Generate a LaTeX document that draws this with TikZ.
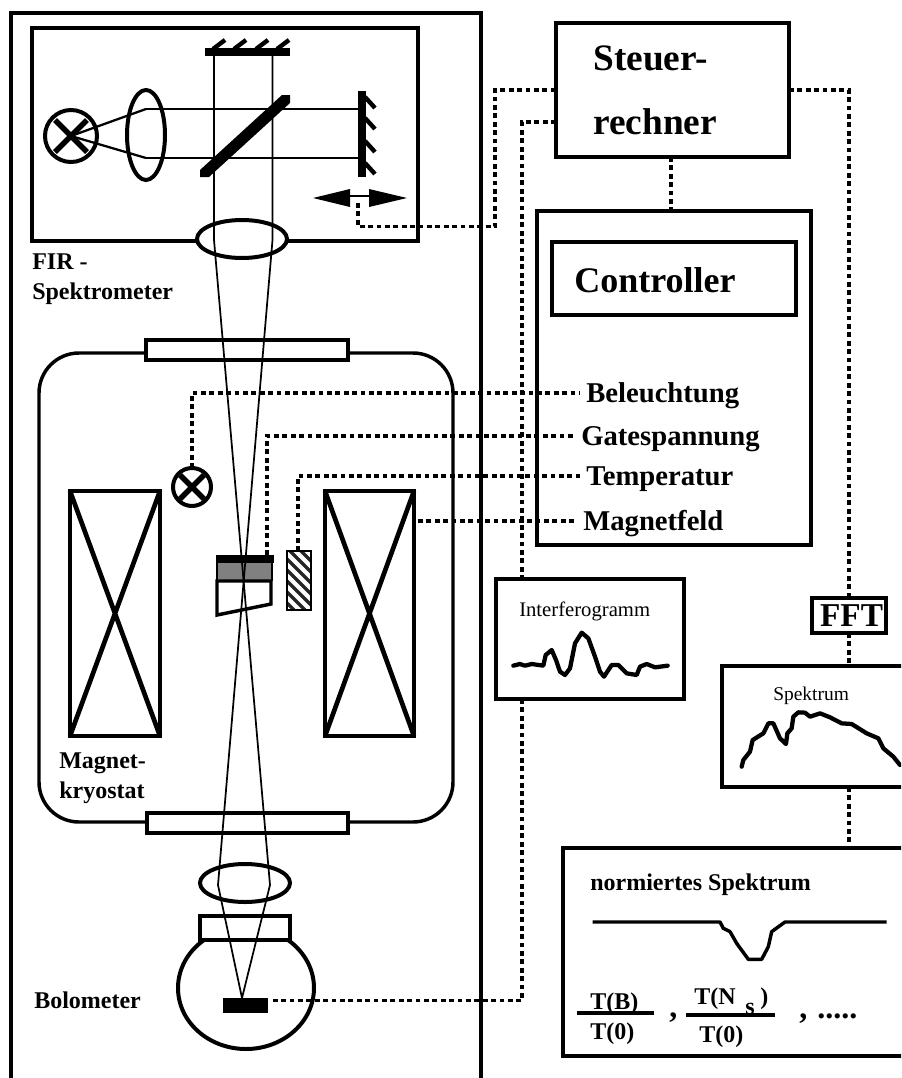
\documentclass[tikz,border=0pt]{standalone}
\usepackage{fontspec}
\setmainfont{Liberation Serif}
\newcommand{\pxbox}[6][]{\node[bx,#1,minimum width={0.75pt*(#5-#3)},minimum height={0.75pt*(#6-#4)}] (#2) at ({(#3+#5)/2},{(#4+#6)/2}) {};}
\tikzset{
  bx/.style={draw=black,fill=white,line width=2.6pt,inner sep=0pt,outer sep=0pt,rectangle},
  heavy/.style={line width=2.6pt,line join=miter},
  cross/.style={line width=3.5pt},
  ray/.style={line width=1.3pt},
  hatchline/.style={line width=3.3pt},
  conn/.style={line width=2.9pt,dash pattern=on 3.6pt off 2.7pt},
  wave/.style={line width=3.2pt,line join=round,line cap=round},
  lab/.style={font=\fontsize{18}{20}\selectfont\bfseries,inner sep=0pt,anchor=west,text height=14.4pt,text depth=2.7pt},
  sig/.style={font=\fontsize{21.5}{24}\selectfont\bfseries,inner xsep=4.5pt,inner ysep=0pt,anchor=west,text height=17.2pt,text depth=3.2pt},
  big/.style={font=\fontsize{28}{30}\selectfont\bfseries,inner sep=0pt,anchor=west,text height=22.4pt,text depth=4.2pt},
  small/.style={font=\fontsize{15.5}{17}\selectfont,inner sep=0pt,anchor=west,text height=12.4pt,text depth=2.3pt},
  punct/.style={font=\fontsize{24}{26}\selectfont\bfseries,inner sep=0pt,anchor=base west},
}
\begin{document}
\begin{tikzpicture}[x=0.75pt,y=-0.75pt]
\useasboundingbox (0,0) rectangle (901,1078);
\clip (0,0) rectangle (901,1078);
% outer frame
\draw[heavy] (11,1090) -- (11,13) -- (481,13) -- (481,1090);
% spectrometer
\pxbox{spec}{32}{28}{418}{241}
\draw[line width=3pt,fill=white] (242,239) ellipse (33.75pt and 14.25pt);
% top mirror
\fill (205,48) rectangle (290,56);
\foreach \a in {213,234,256,277}{\draw[hatchline] (\a,49) -- (\a+12,40);}
% right mirror
\fill (358,91) rectangle (366,177);
\foreach \a/\b in {97/108,118/129,141/152,163/174}{\draw[hatchline] (365,\a) -- (375,\b);}
% scan arrow
\fill (313,198) -- (350,189) -- (350,207) -- cycle;
\fill (407,198) -- (369,189) -- (369,207) -- cycle;
\draw[line width=1.5pt] (349,196) -- (370,196);
\coordinate (scan) at (358,203);
% source lamp
\draw[line width=3pt] (71,136) circle (19.5pt);
\draw[line width=4pt] (55,120) -- (87,152) (55,152) -- (87,120);
\draw[line width=3pt] (146,135) ellipse (14.25pt and 33.75pt);
\draw[line width=1.7pt] (71,136) -- (146,109) (71,136) -- (146,158);
% horizontal rays
\draw[ray] (146,109) -- (358,109) (146,158) -- (358,158);
% splitter
\fill (200,170) -- (200,177) -- (209,177) -- (290,103) -- (290,95) -- (282,95) -- cycle;
% labels spectrometer
\node[lab] (fir) at (32,262) {FIR -};
\node[lab] (spk) at (32,292) {Spektrometer};
% cryostat
\draw[heavy,rounded corners=30pt] (39,353) rectangle (453,822);
\pxbox{winA}{146}{340}{348}{360}
\pxbox{winB}{147}{813}{348}{833}
\pxbox[fill=none]{magL}{70}{491}{160}{736}
\pxbox[fill=none]{magR}{325}{491}{414}{736}
\draw[cross] (magL.north west) -- (magL.south east) (magL.north east) -- (magL.south west);
\draw[cross] (magR.north west) -- (magR.south east) (magR.north east) -- (magR.south west);
% small lamp
\node[draw=black,line width=3pt,circle,minimum size=28.5pt,inner sep=0pt,outer sep=0pt] (lamp) at (192,487) {};
\draw[line width=4pt] (180,475) -- (204,499) (180,499) -- (204,475);
% sample
\fill[black!50] (217,563) rectangle (273,581);
\draw[heavy] (217,581) -- (217,615) -- (271,604) -- (271,581) -- cycle;
\draw[line width=2.2pt] (217,563) -- (217,581) (272,563) -- (272,581);
\fill (216,555) rectangle (274,563);
\coordinate (gatepin) at (267,555);
% thermometer
\begin{scope}
\clip (287,551) rectangle (311,610);
\foreach \s in {0,11,...,110}{\draw[line width=2.4pt,black!85] (270,520+\s) -- (320,570+\s);}
\end{scope}
\pxbox[line width=2pt,fill=none]{therm}{287}{551}{311}{610}
\node[lab] (mag1) at (59,761) {Magnet-};
\node[lab] (mag2) at (59,791) {kryostat};
% bolometer
\draw[line width=3pt] (245,883) ellipse (33.75pt and 14.25pt);
\draw[line width=3pt] (246,988) ellipse (51pt and 45.75pt);
\pxbox{bulb}{200}{916}{290}{940}
\node[fill=black,minimum width=33.75pt,minimum height=11.5pt,inner sep=0pt,outer sep=0pt] (bolo) at (245,1005.5) {};
\coordinate (boloout) at (270,1000.5);
\node[lab] (bolt) at (34,1001) {Bolometer};
% beam paths
\draw[ray] (214,56) -- (214,240) -- (270,885) -- (242,998);
\draw[ray] (272.5,56) -- (272.5,240) -- (218,885) -- (242,998);
% computer
\pxbox{steuer}{556}{23}{789}{157}
\node[big] (st1) at (593,58) {Steuer-};
\node[big] (st2) at (593,122) {rechner};
% controller
\pxbox{ctl}{537}{211}{811}{545}
\pxbox{ctli}{552}{242}{796}{315}
\node[big,font=\fontsize{27}{30}\selectfont\bfseries] (ctlt) at (574,280) {Controller};
% signal labels
\node[sig] (bel) at (580,393) {Beleuchtung};
\node[sig] (gat) at (575,436) {Gatespannung};
\node[sig] (tem) at (580,476) {Temperatur};
\node[sig] (mfd) at (577,521) {Magnetfeld};
% interferogram
\pxbox{ifg}{496}{579}{684}{699}
\node[small] (ifgt) at (519,610) {Interferogramm};
\begin{scope}[shift={(480,560)},x=0.25pt,y=-0.25pt]
\draw[wave] plot coordinates {(100,317)(120,312)(135,317)(155,312)(190,317)(197,285)(215,270)(228,300)(240,335)(255,345)(270,325)(285,250)(305,218)(325,235)(345,290)(360,335)(372,350)(395,315)(415,315)(440,340)(470,345)(480,320)(500,312)(525,322)(563,317)};
\end{scope}
% FFT
\pxbox{fft}{812}{598}{886}{633}
\node[font=\fontsize{25}{27}\selectfont\bfseries,inner sep=0pt] (ffft) at (851.5,616) {FFT};
% spectrum
\pxbox{spm}{722}{666}{930}{787}
\node[font=\fontsize{14.6}{16}\selectfont,inner sep=0pt,anchor=west,text height=11.7pt,text depth=2.2pt] (spmt) at (773,694) {Spektrum};
\begin{scope}[shift={(480,560)},x=0.25pt,y=-0.25pt]
\draw[wave] plot coordinates {(785,620)(790,600)(810,575)(818,540)(850,520)(865,490)(880,490)(900,535)(918,552)(922,520)(935,505)(940,470)(955,457)(975,458)(990,470)(1020,460)(1050,472)(1085,490)(1115,492)(1160,520)(1195,535)(1210,565)(1240,590)(1260,615)};
\end{scope}
% normalised
\pxbox{nrm}{563}{848}{930}{1056}
\node[lab] (nrmt) at (590,883) {normiertes Spektrum};
\begin{scope}[shift={(540,840)},x=0.25pt,y=-0.25pt]
\draw[wave,line width=2.6pt,line cap=butt] plot coordinates {(158,246)(540,246)(550,265)(570,275)(590,310)(625,358)(665,358)(685,320)(695,275)(735,246)(1040,246)};
\end{scope}
\node[lab] (f1a) at (590,1002) {T(B)};
\node[lab] (f1b) at (590,1032) {T(0)};
\draw[line width=2.6pt] (f1a.west) ++(-13,11) -- ++(77,0);
\node[punct] (c1) at (669,1017) {,};
\node[lab] (f2a) at (694,997) {T(N};
\node[lab] (f2s) at (745,1007) {s};
\node[lab] (f2c) at (760,997) {)};
\node[lab] (f2b) at (699,1035) {T(0)};
\draw[line width=2.6pt] (f2b.west) ++(-13,-20) -- ++(89,0);
\node[punct] (c2) at (799,1018) {,};
\node[punct] (c3) at (817,1018) {.....};
% connectors
\draw[conn] (scan) |- (495,226.5) |- (steuer.west |- 0,90);
\draw[conn] (steuer.west |- 0,122) -| (ifg.north -| 522,0);
\draw[conn] (ifg.south -| 522,0) |- (boloout);
\draw[conn] (steuer.east |- 0,90) -| (fft.north -| 849,0);
\draw[conn] (fft.south -| 849,0) -- (spm.north -| 849,0);
\draw[conn] (spm.south -| 849,0) -- (nrm.north -| 849,0);
\draw[conn] (steuer.south -| 671,0) -- (ctl.north -| 671,0);
\draw[conn] (lamp.north) |- (bel.west);
\draw[conn] (gatepin) |- (gat.west);
\draw[conn] (therm.north -| 298,0) |- (tem.west);
\draw[conn] (magR.east |- mfd.west) ++(4,0) -- (mfd.west);
\end{tikzpicture}
\end{document}
